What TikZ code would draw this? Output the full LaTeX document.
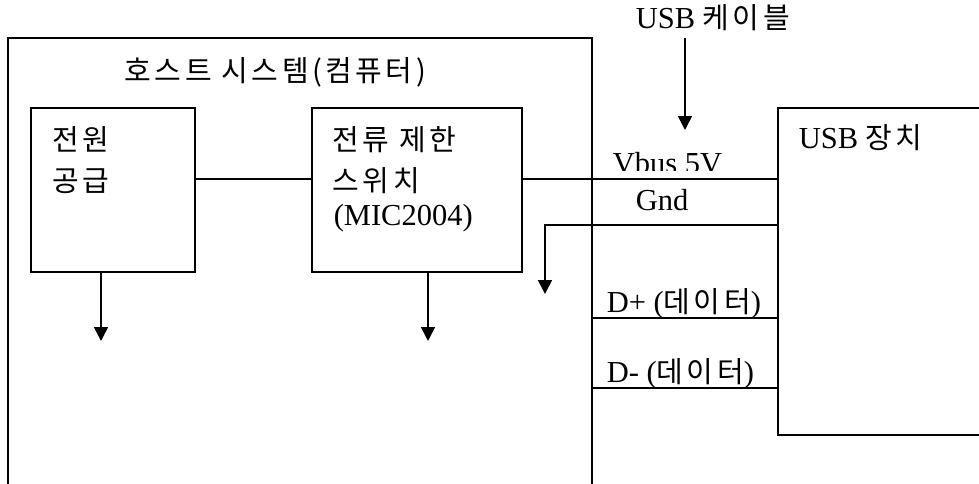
\documentclass[tikz,border=0pt]{standalone}
\usepackage{fontspec}
\setmainfont{Liberation Serif}
\newfontfamily\kr[LetterSpace=12]{Noto Sans CJK KR}
\usetikzlibrary{arrows.meta}
\newcommand{\krs}{\kr\fontsize{29}{34}\selectfont}
\begin{document}
\begin{tikzpicture}[x=1pt,y=-1pt,line width=1.6pt,
  box/.style={draw,inner sep=0pt},
  lbl/.style={anchor=base west,inner sep=0pt,font=\fontsize{30.5}{36}\selectfont},
  klbl/.style={anchor=base west,inner sep=0pt,font=\krs},
  arr/.style={-{Triangle[width=14pt,length=14pt]}}]
\useasboundingbox (0,0) rectangle (979,483);
\fill[white] (0,0) rectangle (979,483);
% host system (open at bottom)
\draw (8,490) -- (8,38) -- (592,38) -- (592,490);
\node[klbl] (title) at (124,81) {호스트 시스템(컴퓨터)};
% power supply
\node[box,minimum width=164pt,minimum height=164pt] (power) at (113,190) {};
\node[klbl] (pw1) at (52,150) {전원};
\node[klbl] (pw2) at (52,191) {공급};
% current limit switch
\node[box,minimum width=210pt,minimum height=164pt] (switch) at (417,190) {};
\node[klbl] (sw1) at (332,150) {전류 제한};
\node[klbl] (sw2) at (332,191) {스위치};
\node[lbl] (sw3) at (333,225) {(MIC2004)};
% USB device (open at right)
\draw (990,108) -- (778,108) -- (778,435) -- (990,435);
\node[lbl] (dev) at (798,148) {USB {\krs 장치}};
% USB cable
\node[lbl] (cable) at (635,28) {USB {\krs 케이블}};
\coordinate (ctop) at (685,38);
\coordinate (ctip) at (685,130);
\draw[arr] (ctop) -- (ctip);
% coordinates
\coordinate (dvbus) at (778,179);
\coordinate (dgnd) at (778,225);
\coordinate (gcorner) at (545,225);
\coordinate (gtip) at (545,294);
\coordinate (hdp) at (592,318);
\coordinate (ddp) at (778,318);
\coordinate (hdm) at (592,388);
\coordinate (ddm) at (778,388);
\coordinate (ptip) at (101,341);
\coordinate (stip) at (428,341);
% connectors
\draw ([yshift=11pt]power.east) -- ([yshift=11pt]switch.west);
\draw ([yshift=11pt]switch.east) -- (dvbus);
\draw[arr] (dgnd) -- (gcorner) -- (gtip);
\draw (hdp) -- (ddp);
\draw (hdm) -- (ddm);
\draw[arr] (power.south -| ptip) -- (ptip);
\draw[arr] (switch.south -| stip) -- (stip);
% wire labels
\begin{scope}
\clip (600,130) rectangle (770,170);
\node[lbl] (vbus) at (612,173) {Vbus 5V};
\end{scope}
\node[lbl] (gnd) at (635,210) {Gnd};
\node[lbl] (dp) at (606,312) {D+ ({\krs 데이터})};
\node[lbl] (dm) at (606,382) {D- ({\krs 데이터})};
\end{tikzpicture}
\end{document}
